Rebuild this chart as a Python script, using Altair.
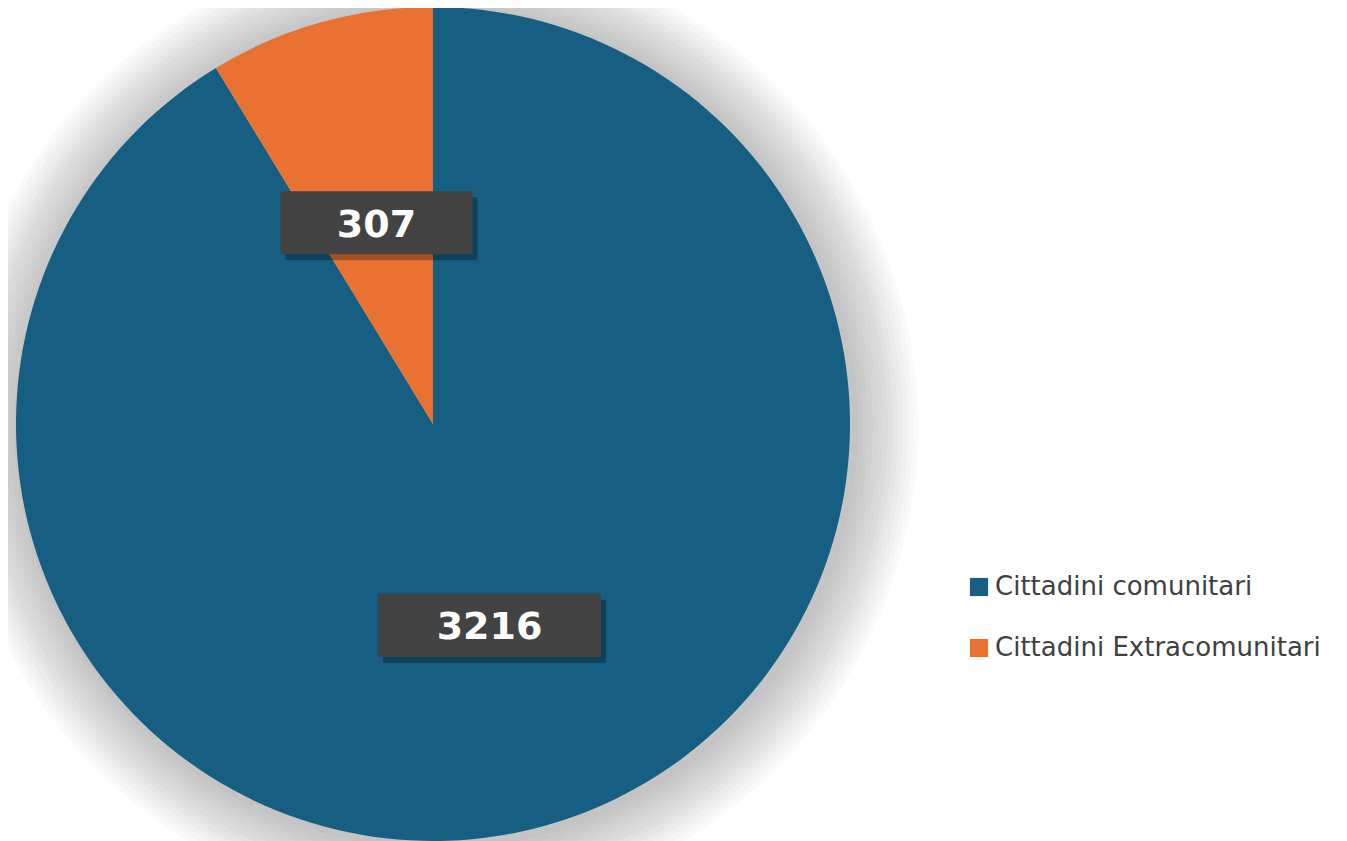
import altair as alt
import pandas as pd

categories = ["Cittadini comunitari", "Cittadini Extracomunitari"]
values = [3216, 307]
colors = ["#165F82", "#E97132"]

df = pd.DataFrame({"categoria": categories, "valore": values, "ordine": [0, 1]})

CX, CY, R, LR = 425, 416, 417, 209

shadow_df = pd.DataFrame({"step": list(range(1, 14))})
shadow = alt.Chart(shadow_df).transform_calculate(
    sz=f"pow(2 * ({R} + datum.step * 5), 2)"
).mark_point(shape="circle", filled=True, color="#6a6a6a", opacity=0.032, strokeWidth=0).encode(
    x=alt.value(CX + 3), y=alt.value(CY + 3),
    size=alt.Size("sz:Q", scale=None, legend=None),
)

base = alt.Chart(df)

pie = base.mark_arc(stroke=None).encode(
    theta=alt.Theta("valore:Q", stack=True),
    order=alt.Order("ordine:Q"),
    color=alt.Color(
        "categoria:N",
        scale=alt.Scale(domain=categories, range=colors),
        legend=alt.Legend(
            title=None, orient="none", legendX=958, legendY=566,
            symbolType="square", symbolSize=330, symbolStrokeWidth=0,
            labelFont="DejaVu Sans", labelFontSize=26, labelColor="#404040",
            rowPadding=35, labelOffset=3, labelLimit=500,
        ),
    ),
    x=alt.value(CX), y=alt.value(CY),
    radius=alt.value(R),
)

pos = (
    base.transform_joinaggregate(total="sum(valore)")
    .transform_window(cum="sum(valore)", sort=[alt.SortField("ordine")])
    .transform_calculate(mid="(datum.cum - datum.valore/2) / datum.total * 2 * PI")
    .transform_calculate(
        cx=f"{CX} + {LR} * sin(datum.mid)",
        cy=f"{CY} - {LR} * cos(datum.mid)",
        w="99 + 31 * length(toString(datum.valore))",
    )
    .transform_calculate(
        x1="datum.cx - datum.w/2", x2="datum.cx + datum.w/2",
        y1="datum.cy - 31.5", y2="datum.cy + 31.5",
    )
)

box_shadow = pos.transform_calculate(
    sx1="datum.x1 + 5", sx2="datum.x2 + 5", sy1="datum.y1 + 6", sy2="datum.y2 + 6"
).mark_rect(color="#000000", opacity=0.3).encode(
    x=alt.X("sx1:Q", scale=None), x2="sx2:Q",
    y=alt.Y("sy1:Q", scale=None), y2="sy2:Q",
)

box = pos.mark_rect(color="#434343").encode(
    x=alt.X("x1:Q", scale=None), x2="x2:Q",
    y=alt.Y("y1:Q", scale=None), y2="y2:Q",
)

label = pos.mark_text(font="DejaVu Sans", fontWeight="bold", fontSize=38, color="white",
                      align="center", baseline="middle", dy=3).encode(
    x=alt.X("cx:Q", scale=None), y=alt.Y("cy:Q", scale=None),
    text="valore:Q",
)

chart = alt.layer(shadow, pie, box_shadow, box, label).properties(
    width=1331, height=833, padding=0, autosize="none", background="white"
).configure_view(stroke=None)

chart.save("out.html", embed_options={"renderer": "svg", "actions": False})
